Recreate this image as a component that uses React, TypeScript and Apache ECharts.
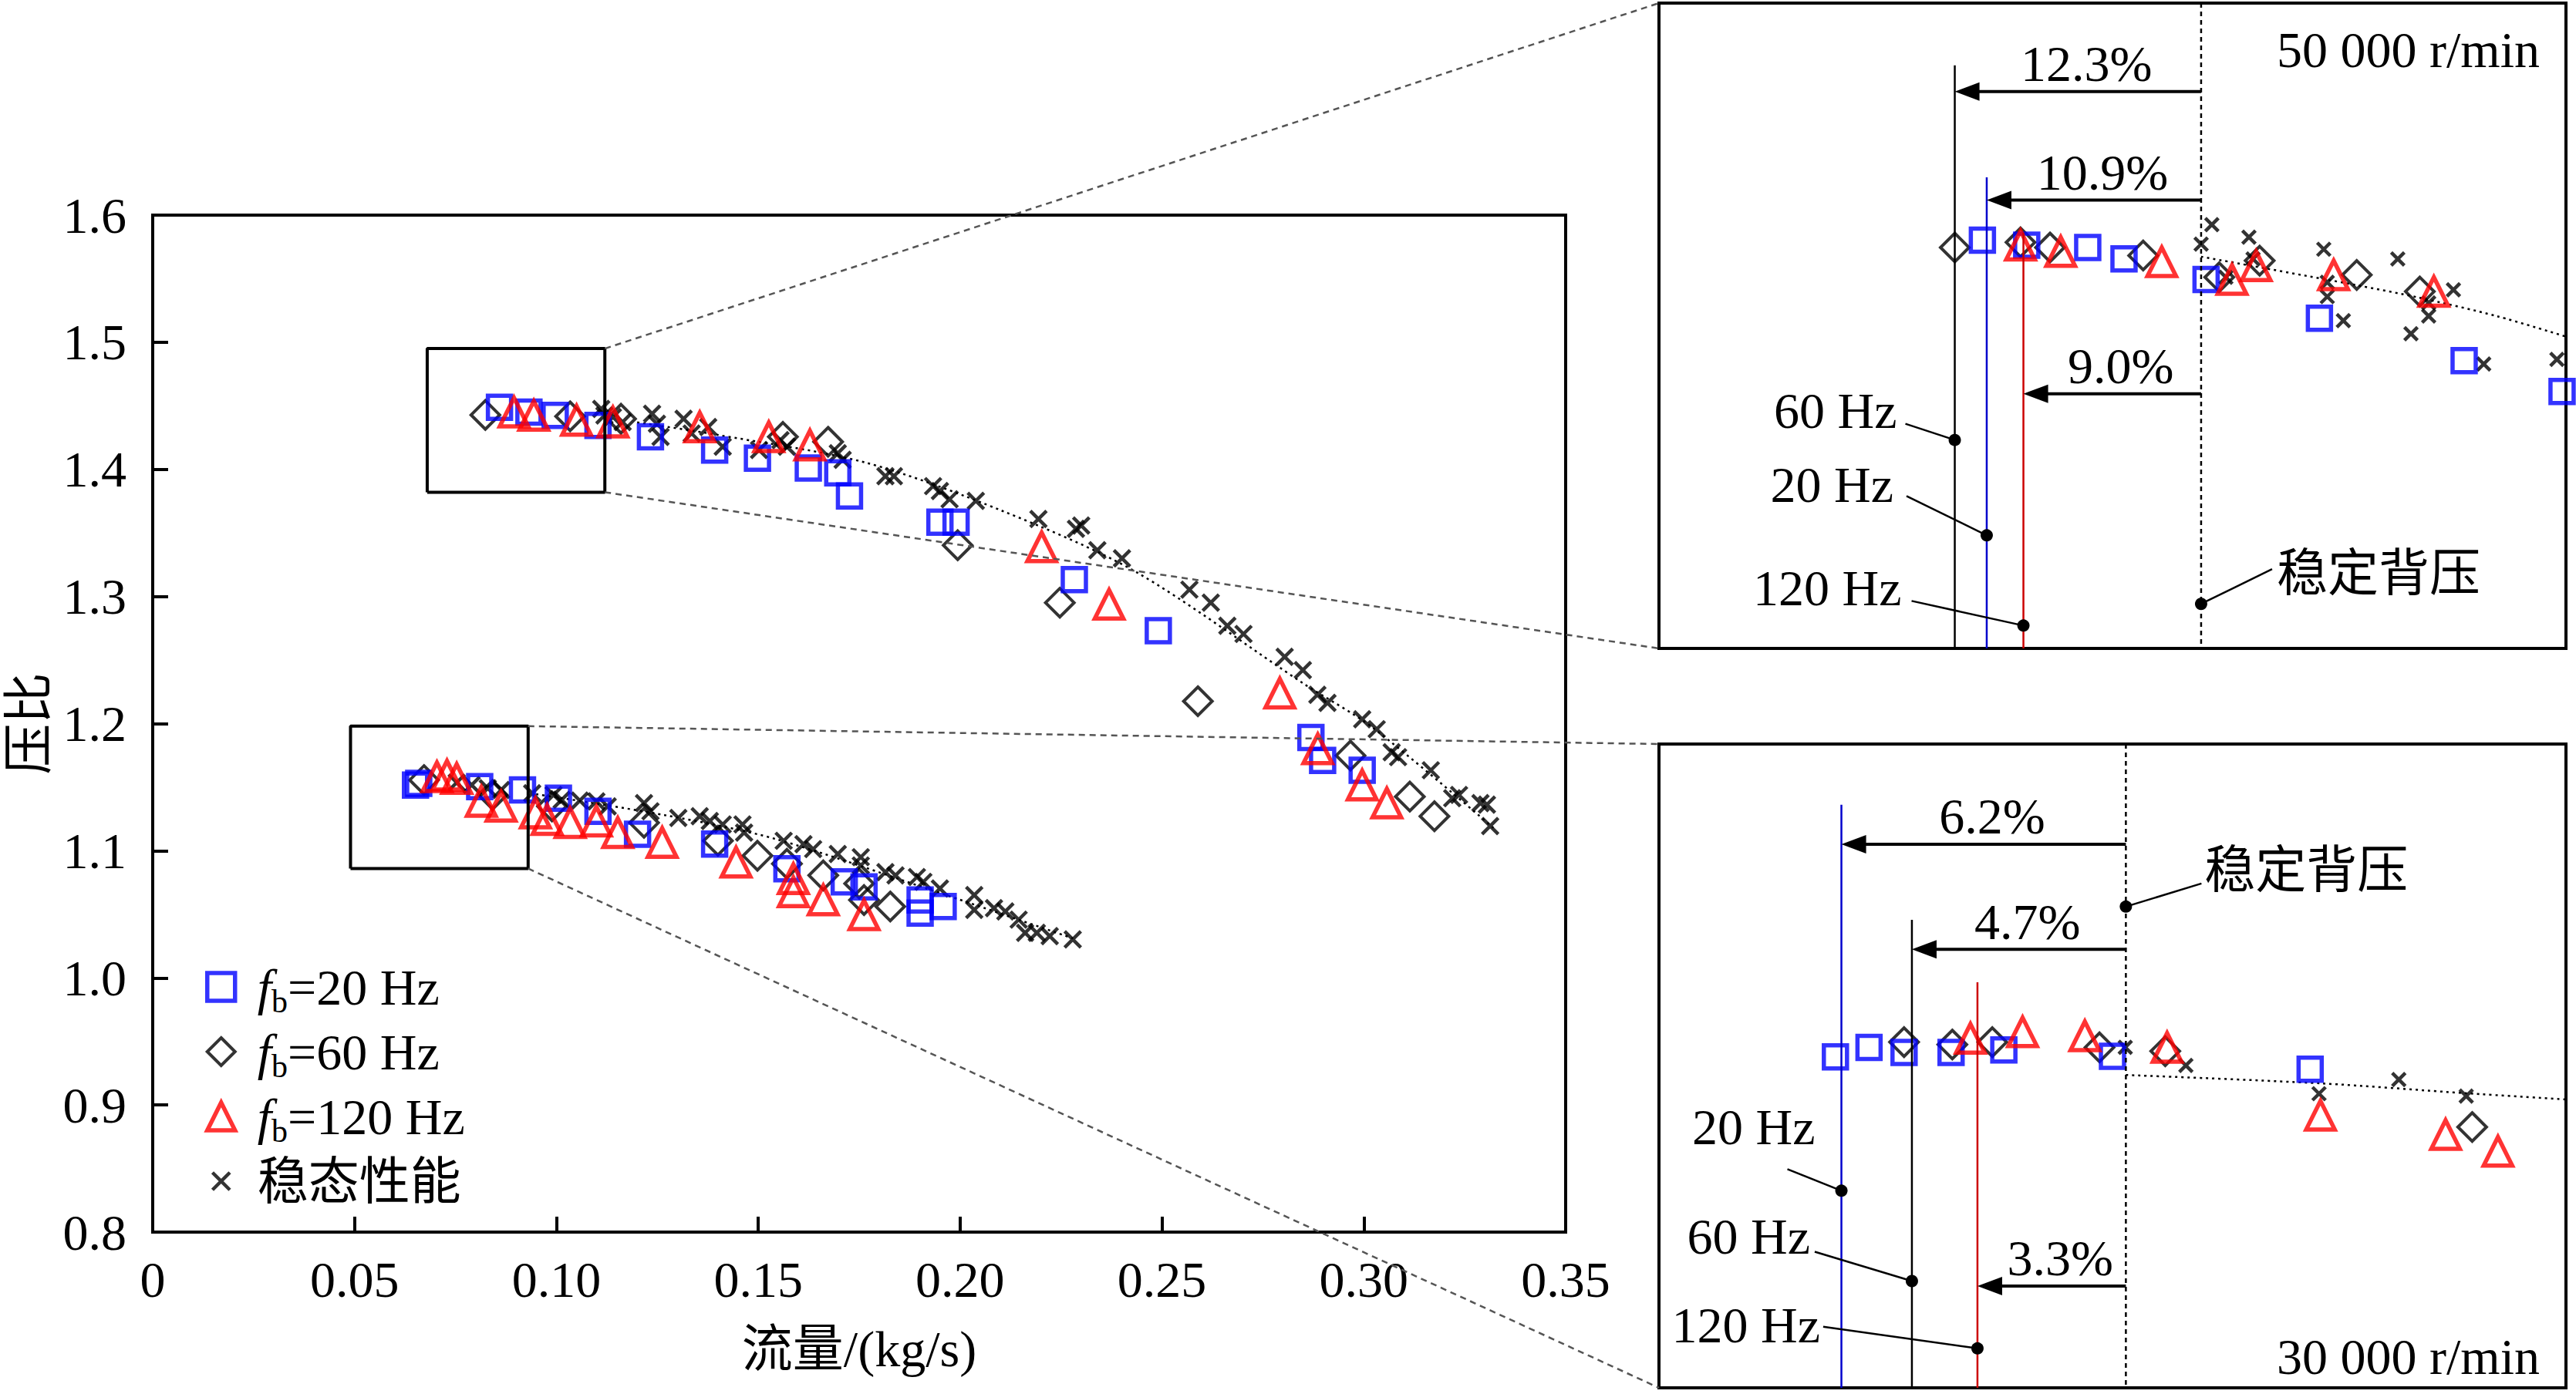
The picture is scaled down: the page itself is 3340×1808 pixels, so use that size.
import React, { useEffect, useRef } from "react";
import * as echarts from "echarts";

type P = [number, number];

// ---------------- main chart data: flow (kg/s) vs pressure ratio ----------------
const xTickValues = [0, 0.05, 0.1, 0.15, 0.2, 0.25, 0.3, 0.35];
const yTickValues = [0.8, 0.9, 1.0, 1.1, 1.2, 1.3, 1.4, 1.5, 1.6];

const blue50k: P[] = [
  [0.0859, 1.4488], [0.0932, 1.445], [0.0997, 1.4424], [0.1103, 1.4346], [0.1233, 1.4256],
  [0.1392, 1.4152], [0.1498, 1.4088], [0.1624, 1.401], [0.1697, 1.3972], [0.1726, 1.3791],
  [0.195, 1.3584], [0.199, 1.3584], [0.2283, 1.3132], [0.2491, 1.2731], [0.2869, 1.1891],
  [0.2898, 1.1711], [0.2996, 1.1633],
];
const blue30k: P[] = [
  [0.0651, 1.1517], [0.0659, 1.153], [0.081, 1.1504], [0.0916, 1.1478], [0.1005, 1.1413],
  [0.1103, 1.131], [0.1201, 1.1129], [0.1392, 1.1052], [0.1571, 1.0858], [0.1713, 1.0755],
  [0.1762, 1.0716], [0.1901, 1.0612], [0.1901, 1.0509], [0.1958, 1.0561],
];
const diamond50k: P[] = [
  [0.0824, 1.4428], [0.1034, 1.4417], [0.116, 1.4398], [0.1561, 1.4256], [0.1673, 1.4217],
  [0.1994, 1.3403], [0.2247, 1.2951], [0.2589, 1.2176], [0.2967, 1.1749], [0.3114, 1.1426],
  [0.3175, 1.1271],
];
const diamond30k: P[] = [
  [0.0672, 1.1556], [0.0842, 1.1439], [0.0989, 1.1349], [0.1217, 1.122], [0.14, 1.1078],
  [0.1498, 1.0961], [0.1571, 1.0897], [0.1661, 1.0806], [0.175, 1.0742], [0.1762, 1.0612],
  [0.1827, 1.0561],
];
const red50k: P[] = [
  [0.0895, 1.445], [0.0944, 1.4424], [0.105, 1.4385], [0.114, 1.4372], [0.1355, 1.4333],
  [0.1526, 1.4256], [0.1628, 1.4191], [0.2202, 1.339], [0.2369, 1.2938], [0.2792, 1.224],
  [0.2886, 1.1801], [0.2996, 1.1517], [0.3057, 1.1375],
];
const red30k: P[] = [
  [0.0704, 1.1581], [0.0729, 1.1594], [0.0753, 1.1568], [0.0814, 1.1388], [0.0863, 1.1349],
  [0.0948, 1.1297], [0.0977, 1.1245], [0.1034, 1.122], [0.1099, 1.1233], [0.1152, 1.1142],
  [0.1262, 1.1065], [0.1445, 1.091], [0.1587, 1.078], [0.1587, 1.0677], [0.1661, 1.0612],
  [0.1762, 1.0496],
];
const steady50k: P[] = [
  [0.1111, 1.4475], [0.1119, 1.4424], [0.114, 1.4411], [0.1164, 1.4372], [0.1237, 1.4437],
  [0.1249, 1.4359], [0.1258, 1.4256], [0.1315, 1.4398], [0.1335, 1.4282], [0.1376, 1.4333],
  [0.1412, 1.4178], [0.1502, 1.4152], [0.1555, 1.423], [0.1571, 1.4178], [0.1697, 1.4127],
  [0.1709, 1.4075], [0.1815, 1.3946], [0.1836, 1.3946], [0.1933, 1.3868], [0.195, 1.3829],
  [0.1974, 1.3765], [0.2039, 1.3752], [0.2194, 1.361], [0.2287, 1.3532], [0.23, 1.3558],
  [0.234, 1.3364], [0.2401, 1.33], [0.2568, 1.3054], [0.2621, 1.2951], [0.2662, 1.277],
  [0.2702, 1.2705], [0.2804, 1.2525], [0.2849, 1.2421], [0.2885, 1.2227], [0.291, 1.2163],
  [0.2996, 1.2034], [0.3032, 1.1956], [0.3069, 1.1775], [0.3085, 1.1736], [0.3166, 1.1633],
  [0.3219, 1.1413], [0.3236, 1.1439], [0.3289, 1.1375], [0.3305, 1.1362], [0.3313, 1.1194],
];
const steady30k: P[] = [
  [0.0753, 1.1536], [0.079, 1.1517], [0.083, 1.1491], [0.0863, 1.1478], [0.094, 1.1452],
  [0.0993, 1.1439], [0.1013, 1.14], [0.1058, 1.1394], [0.1099, 1.1388], [0.1127, 1.1349],
  [0.1217, 1.1375], [0.1233, 1.131], [0.1302, 1.1258], [0.1355, 1.1271], [0.138, 1.1233],
  [0.1412, 1.1207], [0.1461, 1.1207], [0.1465, 1.1142], [0.1563, 1.1078], [0.1612, 1.1052],
  [0.1636, 1.1013], [0.1697, 1.0974], [0.1754, 1.0949], [0.1754, 1.0884], [0.1815, 1.0832],
  [0.184, 1.0806], [0.1893, 1.0793], [0.1909, 1.0755], [0.195, 1.0703], [0.2035, 1.0651],
  [0.2035, 1.0535], [0.2084, 1.0548], [0.2112, 1.0522], [0.2145, 1.0458], [0.2161, 1.0354],
  [0.219, 1.0354], [0.2222, 1.0328], [0.2279, 1.0302],
];
const trend50k: P[] = [
  [0.12, 1.437], [0.1394, 1.4274], [0.1766, 1.4053], [0.2104, 1.3674], [0.2434, 1.3196],
  [0.2853, 1.231], [0.302, 1.1973], [0.3321, 1.118],
];
const trend30k: P[] = [
  [0.095, 1.1445], [0.1268, 1.128], [0.1542, 1.1093], [0.197, 1.0646], [0.228, 1.031],
];

// zoom boxes (value ranges)
const box50k = { x0: 0.068, x1: 0.112, y0: 1.382, y1: 1.495 };
const box30k = { x0: 0.049, x1: 0.093, y0: 1.086, y1: 1.198 };

// ---------------- inset data (50 000 r/min) ----------------
const in50Blue: P[] = [
  [0.08369, 1.4535], [0.08584, 1.4526], [0.0888, 1.4522], [0.09056, 1.4502], [0.09454, 1.4466],
  [0.10004, 1.4398], [0.10706, 1.4324], [0.11181, 1.427],
];
const in50Diamond: P[] = [
  [0.08235, 1.4522], [0.08554, 1.4531], [0.08697, 1.4522], [0.09149, 1.4508], [0.09518, 1.447],
  [0.09714, 1.4499], [0.10185, 1.4474], [0.10491, 1.4445],
];
const in50Red: P[] = [
  [0.08554, 1.4526], [0.08749, 1.4515], [0.09239, 1.4497], [0.0958, 1.4466], [0.09697, 1.449],
  [0.10073, 1.4474], [0.10559, 1.4445],
];
const in50Steady: P[] = [
  [0.09482, 1.4562], [0.0943, 1.4528], [0.09662, 1.454], [0.09682, 1.4502], [0.0955, 1.447],
  [0.10025, 1.4519], [0.10042, 1.4461], [0.10042, 1.4436], [0.1012, 1.4394], [0.10384, 1.4502],
  [0.10448, 1.4371], [0.10534, 1.4425], [0.10534, 1.4402], [0.10654, 1.4448], [0.10801, 1.4318],
  [0.11156, 1.4326],
];
const in50Trend: P[] = [[0.0943, 1.4506], [0.10185, 1.4456], [0.1049, 1.4434], [0.10863, 1.4402], [0.112, 1.4366]];
const surgeFlow50k = [0.08235, 0.0839, 0.08568];
const surgeTop50k = [1.4841, 1.4645, 1.4548];
const steadyFlow50k = 0.0943;
const arrowY50k = [1.4795, 1.4605, 1.4266];
const arrowLabel50k = ["12.3%", "10.9%", "9.0%"];
const dots50k: P[] = [[0.08235, 1.4185], [0.0839, 1.4018], [0.08568, 1.386], [0.0943, 1.3898]];
const dotLabel50k = ["60 Hz", "20 Hz", "120 Hz", "稳定背压"];

// ---------------- inset data (30 000 r/min) ----------------
const in30Blue: P[] = [
  [0.05756, 1.14357], [0.05919, 1.14523], [0.06089, 1.14435], [0.06317, 1.14435], [0.06573, 1.14477],
  [0.071, 1.14366], [0.08059, 1.14143],
];
const in30Diamond: P[] = [
  [0.06089, 1.14615], [0.06323, 1.14572], [0.06517, 1.14615], [0.07037, 1.14523], [0.07356, 1.14457],
  [0.08845, 1.13137],
];
const in30Red: P[] = [
  [0.06411, 1.1468], [0.06664, 1.14792], [0.06966, 1.14723], [0.07365, 1.14523], [0.08109, 1.13343],
  [0.08716, 1.13006], [0.0897, 1.12715],
];
const in30Steady: P[] = [[0.07162, 1.14523], [0.07456, 1.14209], [0.08102, 1.13717], [0.08489, 1.13963], [0.08816, 1.13675]];
const in30Trend: P[] = [[0.07165, 1.14043], [0.0811, 1.13897], [0.08822, 1.13723], [0.093, 1.13617]];
const surgeFlow30k = [0.05785, 0.06127, 0.06445];
const surgeTop30k = [1.18743, 1.16743, 1.15657];
const steadyFlow30k = 0.07165;
const arrowY30k = [1.18057, 1.16229, 1.10372];
const arrowLabel30k = ["6.2%", "4.7%", "3.3%"];
const dots30k: P[] = [[0.05785, 1.12029], [0.06127, 1.10458], [0.06445, 1.09286], [0.07165, 1.16972]];
const dotLabel30k = ["20 Hz", "60 Hz", "120 Hz", "稳定背压"];

const speedLabels = ["50 000 r/min", "30 000 r/min"];
const legendNames = ["fb20", "fb60", "fb120", "steady"];
const legendTexts = ["{i|f}{s|b}{t|=20 Hz}", "{i|f}{s|b}{t|=60 Hz}", "{i|f}{s|b}{t|=120 Hz}", "{t|稳态性能}"];

// ---------------- styles / layout ----------------
const FONT = "'Liberation Serif', 'Noto Sans CJK SC', serif";
const FS = 66;
const CLEAR = "rgba(255,255,255,0)";
const XSYM = "path://M0,0L10,10M10,0L0,10";
const XICON = "path://M-3,-3L-3,-3M13,13L13,13M0,0L10,10M10,0L0,10";
const surgeColor50k = ["#000000", "#0000cc", "#cc0000"];
const surgeColor30k = ["#0000cc", "#000000", "#cc0000"];
// label layout offsets (px) relative to dots: [textDx, textDy, leaderDx, leaderDy, align]
const dotLayout50k: [number, number, number, number, string][] = [
  [-75, -38, -64, -21, "right"], [-121, -66, -104, -51, "right"], [-158, -49, -145, -32, "right"], [98, -40, 92, -45, "left"],
];
const dotLayout30k: [number, number, number, number, string][] = [
  [-34, -83, -70, -28, "right"], [-132, -58, -126, -38, "right"], [-204, -30, -200, -28, "right"], [102, -47, 98, -30, "left"],
];

const styles: Record<string, any> = {
  fb20: { symbol: "rect", symbolSize: 30, itemStyle: { color: CLEAR, borderColor: "#0000ff", borderWidth: 5.5 } },
  fb60: { symbol: "diamond", symbolSize: 37, itemStyle: { color: CLEAR, borderColor: "#000000", borderWidth: 4 } },
  fb120: { symbol: "triangle", symbolSize: 37, itemStyle: { color: CLEAR, borderColor: "#ff0000", borderWidth: 5.5 } },
  steady: { symbol: XSYM, symbolSize: 21, itemStyle: { color: CLEAR, borderColor: "#000000", borderWidth: 4.5 } },
};

function scatter(name: string, data: P[], idx: number, z: number, size?: number) {
  const st = styles[name];
  return {
    type: "scatter",
    name,
    data,
    xAxisIndex: idx,
    yAxisIndex: idx,
    symbol: st.symbol,
    symbolSize: size ?? st.symbolSize,
    itemStyle: st.itemStyle,
    z,
    silent: true,
  };
}

function trend(data: P[], idx: number) {
  return {
    type: "line",
    data,
    xAxisIndex: idx,
    yAxisIndex: idx,
    symbol: "none",
    smooth: 0.3,
    lineStyle: { color: "#000", width: 2.5, type: [3, 5] },
    z: 1,
    silent: true,
  };
}

function boxSeries(b: { x0: number; x1: number; y0: number; y1: number }) {
  return {
    type: "line",
    data: [[b.x0, b.y0], [b.x1, b.y0], [b.x1, b.y1], [b.x0, b.y1], [b.x0, b.y0]],
    xAxisIndex: 0,
    yAxisIndex: 0,
    symbol: "none",
    lineStyle: { color: "#000", width: 4 },
    z: 6,
    silent: true,
  };
}

export default function App() {
  const ref = useRef<HTMLDivElement>(null);
  useEffect(() => {
    document.body.style.margin = "0";
    const chart = echarts.init(ref.current!, null, { renderer: "svg" });
    const axisText = { fontSize: FS, fontFamily: FONT, color: "#000" };
    const tick = { show: true, inside: true, length: 20, lineStyle: { color: "#000", width: 4 } };
    const axLine = { show: true, lineStyle: { color: "#000", width: 4 } };
    const hidden = (gridIndex: number, min: number, max: number) => ({
      gridIndex, type: "value", min, max, show: false, splitLine: { show: false },
    });
    const gridBase = { show: true, borderColor: "#000", borderWidth: 4, containLabel: false, outerBoundsMode: "none" };
    const option: any = {
      animation: false,
      backgroundColor: "#fff",
      grid: [
        { ...gridBase, left: 198, top: 279, width: 1832, height: 1319 },
        { ...gridBase, left: 2151, top: 4, width: 1176, height: 837 },
        { ...gridBase, left: 2151, top: 965, width: 1176, height: 835 },
      ],
      xAxis: [
        {
          gridIndex: 0, type: "value", min: xTickValues[0], max: xTickValues[xTickValues.length - 1], interval: 0.05,
          axisLine: axLine, axisTick: tick, splitLine: { show: false },
          axisLabel: { ...axisText, margin: 28, formatter: (v: number) => (v === 0 ? "0" : v.toFixed(2)) },
          name: "流量/(kg/s)", nameLocation: "middle", nameGap: 118, nameTextStyle: axisText,
        },
        hidden(1, box50k.x0, box50k.x1),
        hidden(2, box30k.x0, box30k.x1),
      ],
      yAxis: [
        {
          gridIndex: 0, type: "value", min: yTickValues[0], max: yTickValues[yTickValues.length - 1], interval: 0.1,
          axisLine: axLine, axisTick: tick, splitLine: { show: false },
          axisLabel: { ...axisText, margin: 34, formatter: (v: number) => v.toFixed(1) },
          name: "压比", nameLocation: "middle", nameGap: 126, nameRotate: 90,
          nameTextStyle: axisText,
        },
        hidden(1, box50k.y0, box50k.y1),
        hidden(2, box30k.y0, box30k.y1),
      ],
      legend: {
        orient: "vertical",
        left: 261,
        top: 1242,
        itemWidth: 36,
        itemHeight: 36,
        itemGap: 11,
        selectedMode: false,
        data: legendNames.map((n) => ({
          name: n,
          icon: n === "steady" ? XICON : styles[n].symbol,
          itemStyle: { borderWidth: styles[n].itemStyle.borderWidth },
        })),
        formatter: (n: string) => legendTexts[legendNames.indexOf(n)],
        textStyle: {
          padding: [0, 0, 0, 24],
          rich: {
            i: { fontSize: FS, fontFamily: FONT, fontStyle: "italic", lineHeight: 80, verticalAlign: "middle", color: "#000" },
            s: { fontSize: 42, fontFamily: FONT, lineHeight: 30, verticalAlign: "bottom", color: "#000" },
            t: { fontSize: FS, fontFamily: FONT, lineHeight: 80, verticalAlign: "middle", color: "#000" },
          },
        },
      },
      series: [
        trend(trend50k, 0),
        trend(trend30k, 0),
        scatter("steady", [...steady50k, ...steady30k], 0, 2),
        scatter("fb60", [...diamond50k, ...diamond30k], 0, 3),
        scatter("fb20", [...blue50k, ...blue30k], 0, 4),
        scatter("fb120", [...red50k, ...red30k], 0, 5),
        boxSeries(box50k),
        boxSeries(box30k),
        trend(in50Trend, 1),
        scatter("steady", in50Steady, 1, 2, 17),
        scatter("fb60", in50Diamond, 1, 3),
        scatter("fb20", in50Blue, 1, 4),
        scatter("fb120", in50Red, 1, 5),
        trend(in30Trend, 2),
        scatter("steady", in30Steady, 2, 2, 17),
        scatter("fb60", in30Diamond, 2, 3),
        scatter("fb20", in30Blue, 2, 4),
        scatter("fb120", in30Red, 2, 5),
      ],
    };
    chart.setOption(option);

    const px = (gi: number, p: P) => chart.convertToPixel({ xAxisIndex: gi, yAxisIndex: gi }, p) as number[];
    const G: any[] = [];
    const font = `${FS}px ${FONT}`;
    const addLine = (a: number[], b: number[], stroke: string, w: number, dash?: number[]) =>
      G.push({ type: "line", z: 100, silent: true, shape: { x1: a[0], y1: a[1], x2: b[0], y2: b[1] }, style: { stroke, lineWidth: w, lineDash: dash } });
    const addText = (x: number, y: number, text: string, align: string) =>
      G.push({ type: "text", z: 100, silent: true, x, y, style: { text, font, fill: "#000", align, verticalAlign: "middle", textAlign: align, textVerticalAlign: "middle" } });

    // connector lines from zoom boxes to insets
    const connect = (b: typeof box50k, gi: number) => {
      addLine(px(0, [b.x1, b.y1]), px(gi, [b.x0, b.y1]), "#555", 2.5, [8, 6]);
      addLine(px(0, [b.x1, b.y0]), px(gi, [b.x0, b.y0]), "#555", 2.5, [8, 6]);
    };
    connect(box50k, 1);
    connect(box30k, 2);

    const annotate = (
      gi: number, b: typeof box50k, flows: number[], tops: number[], colors: string[], steady: number,
      arrowY: number[], arrowLabel: string[], dots: P[], dotLabel: string[], layout: [number, number, number, number, string][],
    ) => {
      flows.forEach((f, i) => addLine(px(gi, [f, tops[i]]), px(gi, [f, b.y0]), colors[i], 2.5));
      addLine(px(gi, [steady, b.y1]), px(gi, [steady, b.y0]), "#000", 2.5, [6, 5]);
      arrowY.forEach((y, i) => {
        const a = px(gi, [steady, y]);
        const t = px(gi, [flows[i], y]);
        addLine(a, [t[0] + 26, t[1]], "#000", 4);
        G.push({ type: "polygon", z: 100, silent: true, shape: { points: [[t[0], t[1]], [t[0] + 32, t[1] - 12], [t[0] + 32, t[1] + 12]] }, style: { fill: "#000" } });
        addText((a[0] + t[0]) / 2 + 11, t[1] - 36, arrowLabel[i], "center");
      });
      dots.forEach((d, i) => {
        const p = px(gi, d);
        const [tdx, tdy, ldx, ldy, al] = layout[i];
        addLine([p[0] + ldx, p[1] + ldy], p, "#000", 2.5);
        G.push({ type: "circle", z: 101, silent: true, shape: { cx: p[0], cy: p[1], r: 8 }, style: { fill: "#000" } });
        addText(p[0] + tdx, p[1] + tdy, dotLabel[i], al);
      });
    };
    annotate(1, box50k, surgeFlow50k, surgeTop50k, surgeColor50k, steadyFlow50k, arrowY50k, arrowLabel50k, dots50k, dotLabel50k, dotLayout50k);
    annotate(2, box30k, surgeFlow30k, surgeTop30k, surgeColor30k, steadyFlow30k, arrowY30k, arrowLabel30k, dots30k, dotLabel30k, dotLayout30k);

    const tr1 = px(1, [box50k.x1, box50k.y1]);
    addText(tr1[0] - 34, tr1[1] + 60, speedLabels[0], "right");
    const br2 = px(2, [box30k.x1, box30k.y0]);
    addText(br2[0] - 34, br2[1] - 41, speedLabels[1], "right");

    chart.setOption({ graphic: G });
    return () => chart.dispose();
  }, []);
  return <div ref={ref} style={{ width: 3340, height: 1808 }} />;
}
